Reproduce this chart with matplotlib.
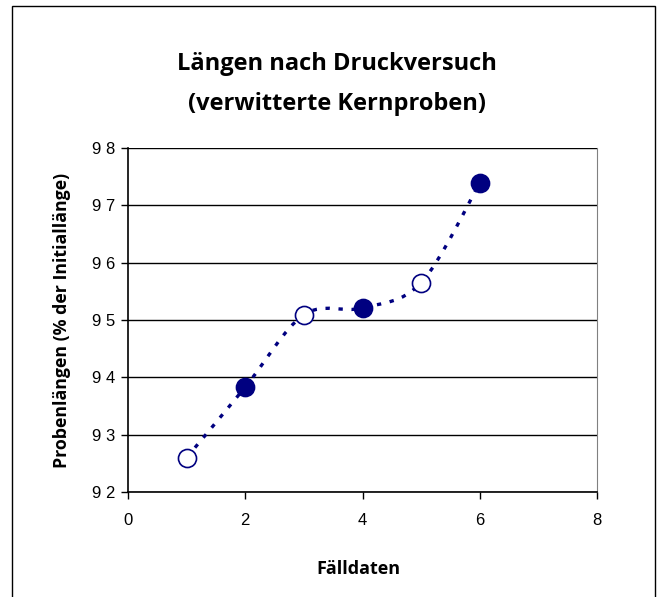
import matplotlib
matplotlib.use("Agg")
import matplotlib.pyplot as plt
import numpy as np
from matplotlib.path import Path
from matplotlib.patches import PathPatch, Rectangle

# Data
x_vals = [1, 2, 3, 4, 5, 6]
y_vals = [92.6, 93.83, 95.09, 95.21, 95.65, 97.39]
filled = [False, True, False, True, False, True]
x_ticks = [0, 2, 4, 6, 8]
y_ticks = [92, 93, 94, 95, 96, 97, 98]
title = "Längen nach Druckversuch\n(verwitterte Kernproben)"
xlabel = "Fälldaten"
ylabel = "Probenlängen (% der Initiallänge)"

navy = "#000080"
W, H = 663, 597
fig = plt.figure(figsize=(W / 100, H / 100), dpi=100)
fig.patch.set_facecolor("white")

# outer chart frame
fig.add_artist(Rectangle((12 / W, -0.01), (655 - 12) / W, 1 - 6 / H + 0.01,
                         transform=fig.transFigure, fill=False,
                         edgecolor="black", lw=1.0))

ax = fig.add_axes([128 / W, 1 - 492 / H, (597 - 128) / W, (492 - 148) / H])
ax.set_xlim(0, 8)
ax.set_ylim(92, 98)
ax.set_xticks(x_ticks)
ax.set_yticks(y_ticks)
ax.set_xticklabels([str(v) for v in x_ticks], family="Liberation Sans", fontsize=12)
ax.set_yticklabels([" ".join(list(str(v))) for v in y_ticks],
                   family="Liberation Sans", fontsize=12)
ax.tick_params(direction="out", length=5, width=1, color="black")
ax.tick_params(axis="x", pad=10)
ax.tick_params(axis="y", pad=4)
ax.yaxis.grid(True, color="black", lw=1)
ax.set_axisbelow(True)
ax.spines["top"].set_visible(False)
ax.spines["right"].set_color("#808080")
ax.spines["left"].set_linewidth(1.2)
ax.spines["bottom"].set_linewidth(1.2)

# smoothed line (Excel-like Catmull-Rom Bezier through data points)
pts = list(zip(x_vals, y_vals))
verts = [pts[0]]
codes = [Path.MOVETO]
n = len(pts)
for i in range(n - 1):
    p0 = pts[i - 1] if i > 0 else pts[i]
    p1 = pts[i]
    p2 = pts[i + 1]
    p3 = pts[i + 2] if i + 2 < n else pts[i + 1]
    c1 = (p1[0] + (p2[0] - p0[0]) / 6, p1[1] + (p2[1] - p0[1]) / 6)
    c2 = (p2[0] - (p3[0] - p1[0]) / 6, p2[1] - (p3[1] - p1[1]) / 6)
    verts += [c1, c2, p2]
    codes += [Path.CURVE4] * 3
patch = PathPatch(Path(verts, codes), fill=False, edgecolor=navy, lw=2.4,
                  linestyle=(0, (1.3, 2.6)), capstyle="butt", zorder=3)
ax.add_patch(patch)

for xv, yv, f in zip(x_vals, y_vals, filled):
    ax.plot([xv], [yv], marker="o", markersize=13,
            markerfacecolor=navy if f else "white",
            markeredgecolor=navy, markeredgewidth=1.2, linestyle="none",
            zorder=4, clip_on=False)

fig.text(337 / W, 1 - 84 / H, title, ha="center", va="center",
         family="Open Sans", fontweight="bold", fontsize=17, linespacing=1.85)
fig.text(358 / W, 1 - 569 / H, xlabel, ha="center", va="center",
         family="Open Sans", fontweight="bold", fontsize=13)
fig.text(62 / W, 1 - 320 / H, ylabel, ha="center", va="center", rotation=90,
         family="Open Sans", fontweight="bold", fontsize=12.8)

fig.savefig("out.png", dpi=100)
